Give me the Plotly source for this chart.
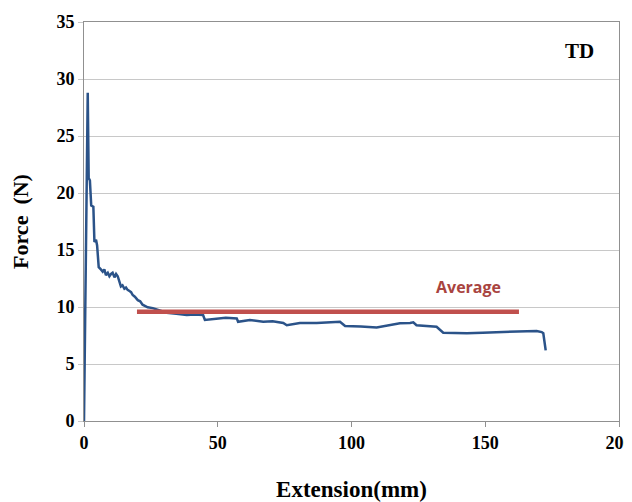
import plotly.graph_objects as go

# Force-extension curve (TD)
extension = [0, 1.4, 1.75, 2.2, 2.7, 3.5, 3.9, 4.5, 4.9, 5.5, 6.3, 7.0, 7.6, 8.2, 8.9, 9.5, 10.1, 10.7, 11.4,
             12.0, 12.6, 13.2, 13.8, 14.4, 15.1, 15.7, 16.3, 17.0, 17.6, 18.2, 19.0, 20.1, 21.0, 21.9, 23.0,
             23.8, 25.7, 28.0, 30.9, 34.5, 38.4, 41.5, 44.5, 45.2,
             49.6, 53.0, 57.1, 57.6, 62.0, 67.0, 70.5, 74.5, 75.8, 80.7, 87.0, 91.5, 95.7, 97.6, 103.5,
             109.4, 114.4, 118.1, 121.9, 123.1, 124.3, 128.0, 131.8, 134.3, 138.5, 143.1, 149.0, 155.5,
             162.0, 169.2, 171.1, 171.7, 172.6]
force = [0, 28.8, 21.3, 21.1, 18.9, 18.8, 15.7, 15.9, 15.4, 13.5, 13.3, 13.1, 13.3, 12.8, 13.0, 12.7, 12.9, 13.0, 12.6,
         12.9, 12.7, 12.2, 11.8, 11.9, 11.6, 11.7, 11.5, 11.4, 11.3, 11.05, 10.9, 10.6, 10.5, 10.2, 10.1,
         9.97, 9.9, 9.75, 9.5, 9.4, 9.3, 9.35, 9.3, 8.86,
         9.0, 9.05, 9.0, 8.7, 8.86, 8.7, 8.75, 8.6, 8.4, 8.6, 8.6, 8.65, 8.7, 8.33, 8.3,
         8.2, 8.4, 8.57, 8.6, 8.66, 8.4, 8.35, 8.27, 7.75, 7.72, 7.7, 7.75, 7.78,
         7.82, 7.9, 7.8, 7.7, 6.2]

avg_x = [19.8, 162.6]
avg_y = [9.58, 9.58]

x_ticks = [0, 50, 100, 150, 200]
y_ticks = [0, 5, 10, 15, 20, 25, 30, 35]

fig = go.Figure()
fig.add_trace(go.Scatter(x=extension, y=force, mode="lines",
                         line=dict(color="#2b5389", width=2.5), showlegend=False))
fig.add_trace(go.Scatter(x=avg_x, y=avg_y, mode="lines",
                         line=dict(color="#c0504d", width=4.5), showlegend=False))

serif = "Liberation Serif, Times New Roman, serif"
fig.add_annotation(x=143.6, y=11.75, text="<b>Average</b>", showarrow=False,
                   font=dict(family="Open Sans, sans-serif", size=16, color="#a9443f"))
fig.add_annotation(x=185.4, y=32.5, text="<b>TD</b>", showarrow=False,
                   font=dict(family=serif, size=21, color="black"))

# page body has an 8px margin, so the figure is sized/offset to compensate
fig.update_layout(
    width=624, height=494,
    margin=dict(l=76, r=13, t=14, b=81),
    paper_bgcolor="white", plot_bgcolor="white",
    font=dict(family=serif, color="black"),
)
fig.update_xaxes(range=[0, 200], tickvals=x_ticks, ticktext=[f"<b>{v}</b>" for v in x_ticks],
                 showgrid=False, zeroline=False, automargin=False, ticklabeloverflow="allow",
                 showline=True, linecolor="#909090", linewidth=1, mirror=True,
                 ticks="outside", ticklen=5, tickcolor="#909090",
                 tickfont=dict(family=serif, size=18, color="black"),
                 title=dict(text="<b>Extension(mm)</b>", font=dict(family=serif, size=23), standoff=30))
fig.update_yaxes(range=[0, 35], tickvals=y_ticks, ticktext=[f"<b>{v}</b>" for v in y_ticks],
                 showgrid=True, gridcolor="#c8c8c8", gridwidth=1, zeroline=False, automargin=False,
                 showline=True, linecolor="#909090", linewidth=1, mirror=True,
                 ticks="outside", ticklen=5, tickcolor="#c8c8c8",
                 tickfont=dict(family=serif, size=18, color="black"),
                 title=dict(text="<b>Force  (N)</b>", font=dict(family=serif, size=22), standoff=22))

fig.write_html("out.html")
